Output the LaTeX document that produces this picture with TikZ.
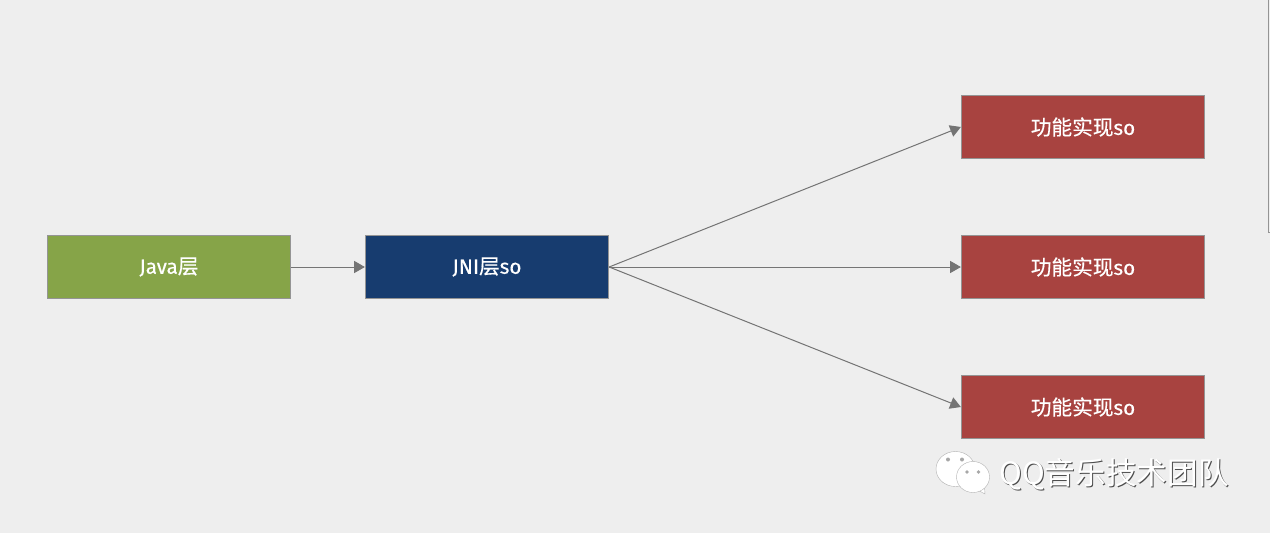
\documentclass[tikz,border=0pt]{standalone}
\usepackage{fontspec}
\setmainfont[FakeBold=0.5]{Fira Sans}
\newfontfamily\cjk[FakeBold=0.5]{Noto Sans CJK SC}
\newfontfamily\cjkthin{Noto Sans CJK SC}
\definecolor{bgc}{HTML}{EEEEEE}
\definecolor{greenbox}{HTML}{86A448}
\definecolor{bluebox}{HTML}{173C6F}
\definecolor{redbox}{HTML}{A84340}
\definecolor{edgec}{HTML}{949494}
\definecolor{linec}{HTML}{747474}
\usetikzlibrary{arrows.meta}
\tikzset{
  blockbox/.style={draw=edgec,line width=0.6pt,minimum width=182.6pt,minimum height=47.6pt,inner sep=0pt,text=white,font=\fontsize{15.5}{17}\selectfont,anchor=center},
  conn/.style={draw=linec,line width=0.75pt,-{Triangle[length=8pt,width=9pt,fill=linec]}},
  bubble/.style={fill=white,draw=white!70!black,line width=0.3pt},
  wm/.style={text=white,inner sep=0pt,font=\fontsize{23}{25}\selectfont\cjkthin}
}
\begin{document}
\begin{tikzpicture}[x=0.75pt,y=-0.75pt]
\useasboundingbox (0,0) rectangle (1270,532);
\fill[bgc] (-2,-2) rectangle (1272,534);
\draw[edgec,line width=0.5pt] (1268.5,0) -- (1268.5,232) -- (1270,232);
\node[blockbox,fill=greenbox] (java) at (169,267) {Java{\cjk 层}};
\node[blockbox,fill=bluebox] (jni) at (487,267) {JNI{\cjk 层}so};
\node[blockbox,fill=redbox] (r1) at (1083,127) {{\cjk 功能实现}so};
\node[blockbox,fill=redbox] (r2) at (1083,267) {{\cjk 功能实现}so};
\node[blockbox,fill=redbox] (r3) at (1083,407) {{\cjk 功能实现}so};
\draw[conn] (java.east) -- (jni.west);
\draw[conn] (jni.east) -- (r1.west);
\draw[conn] (jni.east) -- (r2.west);
\draw[conn] (jni.east) -- (r3.west);
% WeChat icon
\draw[bubble] (943,482) -- (948,473) -- (965,473) -- (949,477) -- cycle;
\draw[bubble] (955.5,469) ellipse [x radius=19.5,y radius=17.5];
\draw[bubble] (985,494) -- (974,488) -- (984,480) -- cycle;
\draw[bubble] (973,477) ellipse [x radius=16.5,y radius=15.5];
\fill[bgc!70!black] (948,459.5) circle (2) (962,459.5) circle (2) (967,472) circle (1.8) (978.5,472) circle (1.8);
% Watermark text
\node[wm,text=black!70,anchor=west] (wmshadow) at (1000,475) {QQ音乐技术团队};
\node[wm,anchor=west] (wmtext) at (999,474) {QQ音乐技术团队};
\end{tikzpicture}
\end{document}
